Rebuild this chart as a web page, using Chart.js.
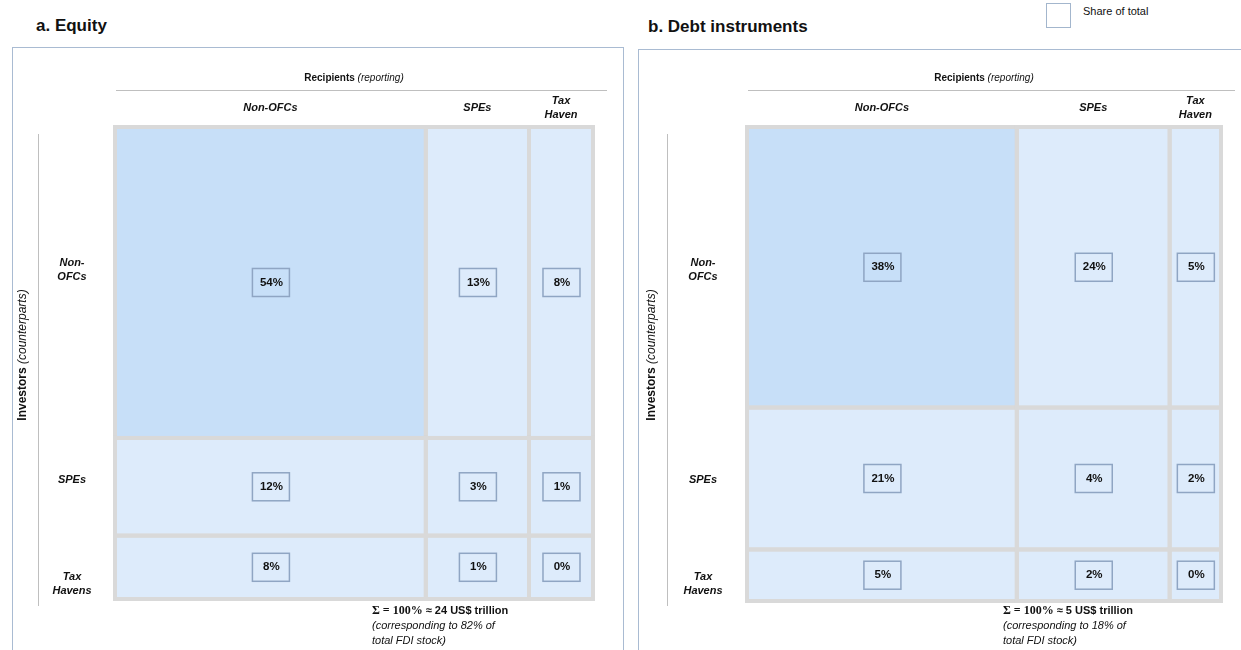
<!DOCTYPE html>
<html>
<head>
<meta charset="utf-8">
<script src="https://cdn.jsdelivr.net/npm/chart.js@4.4.1/dist/chart.umd.min.js"></script>
<style>
  body { margin: 0; width: 1241px; height: 650px; position: relative; overflow: hidden; background: #fff;
         font-family: "Liberation Sans", Arial, sans-serif; color: #111; }
  .frame { position: absolute; border: 1.5px solid #a9bbd2; border-bottom: none; }
  .title { position: absolute; font-weight: bold; font-size: 17px; }
  .box { position: absolute; }
  .note { position: absolute; font-size: 11px; line-height: 15px; }
  .note .sig { font-family: "Liberation Serif", serif; font-weight: bold; font-size: 12px; }
  .note b { font-weight: bold; }
  .note i { display: block; }
</style>
</head>
<body>

<div class="frame" style="left:12px; top:47px; width:610px; height:640px;"></div>
<div class="frame" style="left:638px; top:49px; width:640px; height:640px;"></div>

<div class="title" style="left:36px; top:16px;">a. Equity</div>
<div class="title" style="left:648px; top:17px;">b. Debt instruments</div>

<div style="position:absolute; left:1046px; top:3px; width:23px; height:23px; border:1.5px solid #a3b6cd;"></div>
<div style="position:absolute; left:1083px; top:5px; font-size:11px;">Share of total</div>

<div class="box" style="left:0; top:0;"><canvas id="equity" width="625" height="650"></canvas></div>
<div class="box" style="left:625px; top:0;"><canvas id="debt" width="616" height="650"></canvas></div>

<div class="note" style="left:372px; top:603px;">
  <span class="sig">&Sigma; = 100%</span> <b>&asymp; 24 US$ trillion</b>
  <i>(corresponding to 82% of</i>
  <i>total FDI stock)</i>
</div>
<div class="note" style="left:1003px; top:603px;">
  <span class="sig">&Sigma; = 100%</span> <b>&asymp; 5 US$ trillion</b>
  <i>(corresponding to 18% of</i>
  <i>total FDI stock)</i>
</div>

<script>
// recipients (columns) and investors (rows)
const recipientLabels = [['Non-OFCs'], ['SPEs'], ['Tax', 'Haven']];
const investorLabels = [['Non-', 'OFCs'], ['SPEs'], ['Tax', 'Havens']];

// share of total, % : one array per investor group, values by recipient group
const equityNonOFC = [54, 13, 8];
const equitySPE = [12, 3, 1];
const equityTaxHaven = [8, 1, 0];

const debtNonOFC = [38, 24, 5];
const debtSPE = [21, 4, 2];
const debtTaxHaven = [5, 2, 0];

const darkCell = '#c7dff8';
const lightCell = '#ddebfb';
const gridGray = '#d9d9d9';
const labelBorder = '#8fa5c3';
const rowLabelY = [270, 480, 584];   // row headers sit at the same height in both panels

// block sizes grow with the group total, a bit damped like the original mosaic
function weight(s) { return Math.pow(s, 0.75); }

function edges(ws) {
  const e = [0];
  ws.forEach(w => e.push(e[e.length - 1] + w));
  return e;
}

function layout(rows) {
  const colSums = rows[0].map((_, j) => rows.reduce((a, r) => a + r[j], 0));
  const rowSums = rows.map(r => r.reduce((a, b) => a + b, 0));
  return { colEdges: edges(colSums.map(weight)), rowEdges: edges(rowSums.map(weight)) };
}

const mosaicPlugin = {
  id: 'mosaic',
  beforeDatasetsDraw(chart) {
    const opts = chart.options.plugins.mosaic;
    const { ctx, chartArea, scales: { x, y } } = chart;
    const { colEdges, rowEdges } = opts.layout;
    const rows = opts.rows;

    const cell = (i, j) => ({
      x0: x.getPixelForValue(colEdges[j]), x1: x.getPixelForValue(colEdges[j + 1]),
      y0: y.getPixelForValue(rowEdges[i]), y1: y.getPixelForValue(rowEdges[i + 1])
    });

    ctx.save();
    // fills
    rows.forEach((r, i) => r.forEach((v, j) => {
      const c = cell(i, j);
      ctx.fillStyle = (i === 0 && j === 0) ? darkCell : lightCell;
      ctx.fillRect(c.x0, c.y0, c.x1 - c.x0, c.y1 - c.y0);
    }));
    // grid
    ctx.strokeStyle = gridGray;
    ctx.lineWidth = 4;
    rows.forEach((r, i) => r.forEach((v, j) => {
      const c = cell(i, j);
      ctx.strokeRect(c.x0, c.y0, c.x1 - c.x0, c.y1 - c.y0);
    }));
    // value boxes
    ctx.font = 'bold 11.5px "Liberation Sans", Arial, sans-serif';
    ctx.textAlign = 'center';
    ctx.textBaseline = 'middle';
    rows.forEach((r, i) => r.forEach((v, j) => {
      const c = cell(i, j);
      const cx = (c.x0 + c.x1) / 2, cy = (c.y0 + c.y1) / 2;
      ctx.strokeStyle = labelBorder;
      ctx.lineWidth = 1.5;
      ctx.strokeRect(cx - 18, cy - 14, 37, 28);
      ctx.fillStyle = '#111';
      ctx.fillText(v + '%', cx + 1, cy);
    }));

    // column headers
    ctx.font = 'bold italic 11px "Liberation Sans", Arial, sans-serif';
    recipientLabels.forEach((lines, j) => {
      const cx = (x.getPixelForValue(colEdges[j]) + x.getPixelForValue(colEdges[j + 1])) / 2;
      const top = 108 - (lines.length - 1) * 7;
      lines.forEach((t, k) => ctx.fillText(t, cx, top + k * 14));
    });
    // row headers
    investorLabels.forEach((lines, i) => {
      const top = rowLabelY[i] - (lines.length - 1) * 7;
      lines.forEach((t, k) => ctx.fillText(t, opts.rowLabelX, top + k * 14));
    });

    // "Recipients (reporting)"
    const midX = (chartArea.left + chartArea.right) / 2;
    ctx.font = 'bold 10px "Liberation Sans", Arial, sans-serif';
    const w1 = ctx.measureText('Recipients ').width;
    ctx.font = 'italic 10px "Liberation Sans", Arial, sans-serif';
    const w2 = ctx.measureText('(reporting)').width;
    ctx.textAlign = 'left';
    ctx.font = 'bold 10px "Liberation Sans", Arial, sans-serif';
    ctx.fillText('Recipients ', midX - (w1 + w2) / 2, 78);
    ctx.font = 'italic 10px "Liberation Sans", Arial, sans-serif';
    ctx.fillText('(reporting)', midX - (w1 + w2) / 2 + w1, 78);
    ctx.strokeStyle = '#bfbfbf';
    ctx.lineWidth = 1;
    ctx.beginPath();
    ctx.moveTo(chartArea.left + 1, 90.5);
    ctx.lineTo(chartArea.right + 14, 90.5);
    ctx.stroke();

    // "Investors (counterparts)", rotated
    ctx.save();
    ctx.translate(opts.axisTitleX, 355);
    ctx.rotate(-Math.PI / 2);
    ctx.font = 'bold 12px "Liberation Sans", Arial, sans-serif';
    const v1 = ctx.measureText('Investors ').width;
    ctx.font = 'italic 12px "Liberation Sans", Arial, sans-serif';
    const v2 = ctx.measureText('(counterparts)').width;
    ctx.font = 'bold 12px "Liberation Sans", Arial, sans-serif';
    ctx.fillText('Investors ', -(v1 + v2) / 2, 0);
    ctx.font = 'italic 12px "Liberation Sans", Arial, sans-serif';
    ctx.fillText('(counterparts)', -(v1 + v2) / 2 + v1, 0);
    ctx.restore();
    ctx.beginPath();
    ctx.moveTo(opts.axisLineX + 0.5, 134);
    ctx.lineTo(opts.axisLineX + 0.5, 606);
    ctx.stroke();

    ctx.restore();
  }
};

function makeChart(id, rows, padding, rowLabelX, axisTitleX, axisLineX) {
  const lay = layout(rows);
  const datasets = rows.map((r, i) => ({
    label: investorLabels[i].join(''),
    data: r.map((v, j) => ({
      x: (lay.colEdges[j] + lay.colEdges[j + 1]) / 2,
      y: (lay.rowEdges[i] + lay.rowEdges[i + 1]) / 2,
      v: v
    })),
    pointRadius: 0
  }));

  new Chart(document.getElementById(id), {
    type: 'scatter',
    data: { datasets: datasets },
    options: {
      responsive: false,
      animation: false,
      layout: { padding: padding },
      scales: {
        x: { type: 'linear', display: false, min: 0, max: lay.colEdges[3] },
        y: { type: 'linear', display: false, min: 0, max: lay.rowEdges[3], reverse: true }
      },
      plugins: {
        legend: { display: false },
        tooltip: { enabled: false },
        mosaic: { rows: rows, layout: lay, rowLabelX: rowLabelX, axisTitleX: axisTitleX, axisLineX: axisLineX }
      }
    },
    plugins: [mosaicPlugin]
  });
}

makeChart('equity', [equityNonOFC, equitySPE, equityTaxHaven],
  { left: 115, top: 127, right: 32, bottom: 51 }, 72, 23, 38);
makeChart('debt', [debtNonOFC, debtSPE, debtTaxHaven],
  { left: 122, top: 127, right: 20, bottom: 49 }, 78, 27, 42);
</script>
</body>
</html>
